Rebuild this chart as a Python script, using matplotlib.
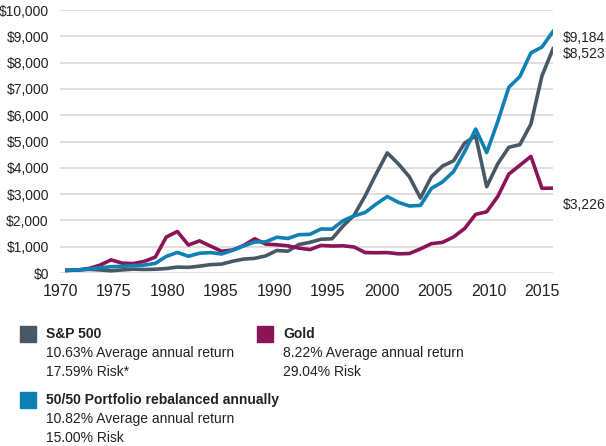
import numpy as np
import matplotlib
matplotlib.use('Agg')
import matplotlib.pyplot as plt
from matplotlib.patches import Rectangle

plt.rcParams['font.family'] = ['Liberation Sans', 'DejaVu Sans']

# Growth of $100, year-end values
years = list(range(1970, 2015))
sp500 = [100, 114, 136, 116, 85, 117, 145, 134, 143, 170, 225, 214, 260, 318, 338,
         447, 530, 557, 651, 856, 830, 1083, 1165, 1283, 1300, 1788, 2200, 2935, 3774,
         4567, 4151, 3657, 2849, 3667, 4066, 4266, 4940, 5211, 3283, 4153, 4780, 4880,
         5661, 7496, 8523]
gold = [100, 116, 173, 300, 499, 375, 360, 441, 605, 1370, 1578, 1063, 1222, 1023, 825,
        875, 1046, 1301, 1097, 1073, 1033, 945, 891, 1048, 1025, 1035, 988, 776, 770,
        776, 729, 740, 917, 1116, 1165, 1372, 1691, 2230, 2327, 2909, 3760, 4096, 4434,
        3222, 3226]
portfolio = [100, 115, 154, 200, 239, 254, 279, 301, 366, 632, 782, 636, 751, 775, 724,
             862, 1026, 1179, 1185, 1359, 1313, 1457, 1470, 1674, 1667, 1989, 2172, 2302,
             2622, 2908, 2688, 2547, 2571, 3219, 3465, 3858, 4611, 5473, 4579, 5759, 7060,
             7470, 8370, 8590, 9184]

tick_labels = ['1970', '1975', '1980', '1985', '1990', '1995', '2000', '2005', '2010', '2015']
y_ticks = list(range(0, 10001, 1000))

c_sp = '#485865'
c_gold = '#8b1456'
c_port = '#0f80b3'

W, H = 606, 446
fig = plt.figure(figsize=(W / 100, H / 100), dpi=100)
ax = fig.add_axes([60 / W, (H - 273) / H, (553 - 60) / W, (273 - 10) / H])

ax.plot(years, sp500, color=c_sp, lw=2.6, solid_joinstyle='round', zorder=3)
ax.plot(years, gold, color=c_gold, lw=2.6, solid_joinstyle='round', zorder=3)
ax.plot(years, portfolio, color=c_port, lw=2.6, solid_joinstyle='round', zorder=4)

ax.set_xlim(1970, 2014)
ax.set_ylim(0, 10000)
ax.set_yticks(y_ticks)
ax.set_yticklabels(['${:,}'.format(v) for v in y_ticks], fontsize=10, color='#222222')
ax.set_xticks(np.linspace(1969.375, 2013.04, len(tick_labels)))
ax.set_xticklabels(tick_labels, fontsize=11.5, color='#222222')
ax.tick_params(axis='both', length=0)
ax.tick_params(axis='y', pad=8)
ax.tick_params(axis='x', pad=8)
ax.grid(axis='y', color='#d6d6d6', lw=1.1, zorder=0)
for s in ax.spines.values():
    s.set_visible(False)

# end labels
for vals, dy in [(portfolio, -5), (sp500, -4), (gold, -12)]:
    ax.annotate('${:,}'.format(vals[-1]), xy=(years[-1], vals[-1]), xytext=(7, dy),
                textcoords='offset points', va='center', ha='left', fontsize=10,
                color='#222222', annotation_clip=False)

# legend block
def legend_item(x, y, color, title, lines):
    fig.patches.append(Rectangle((x / W, (H - y - 8) / H), 16 / W, 16 / H,
                                 transform=fig.transFigure, color=color))
    fig.text((x + 26) / W, (H - y) / H, title, fontsize=10, fontweight='bold',
             va='center', color='#222222')
    for k, t in enumerate(lines):
        fig.text((x + 26) / W, (H - y - 19 * (k + 1)) / H, t, fontsize=10,
                 va='center', color='#222222')

legend_item(20, 334, c_sp, 'S&P 500', ['10.63% Average annual return', '17.59% Risk*'])
legend_item(257, 334, c_gold, 'Gold', ['8.22% Average annual return', '29.04% Risk'])
legend_item(20, 400, c_port, '50/50 Portfolio rebalanced annually',
            ['10.82% Average annual return', '15.00% Risk'])

fig.savefig('out.png', dpi=100)
